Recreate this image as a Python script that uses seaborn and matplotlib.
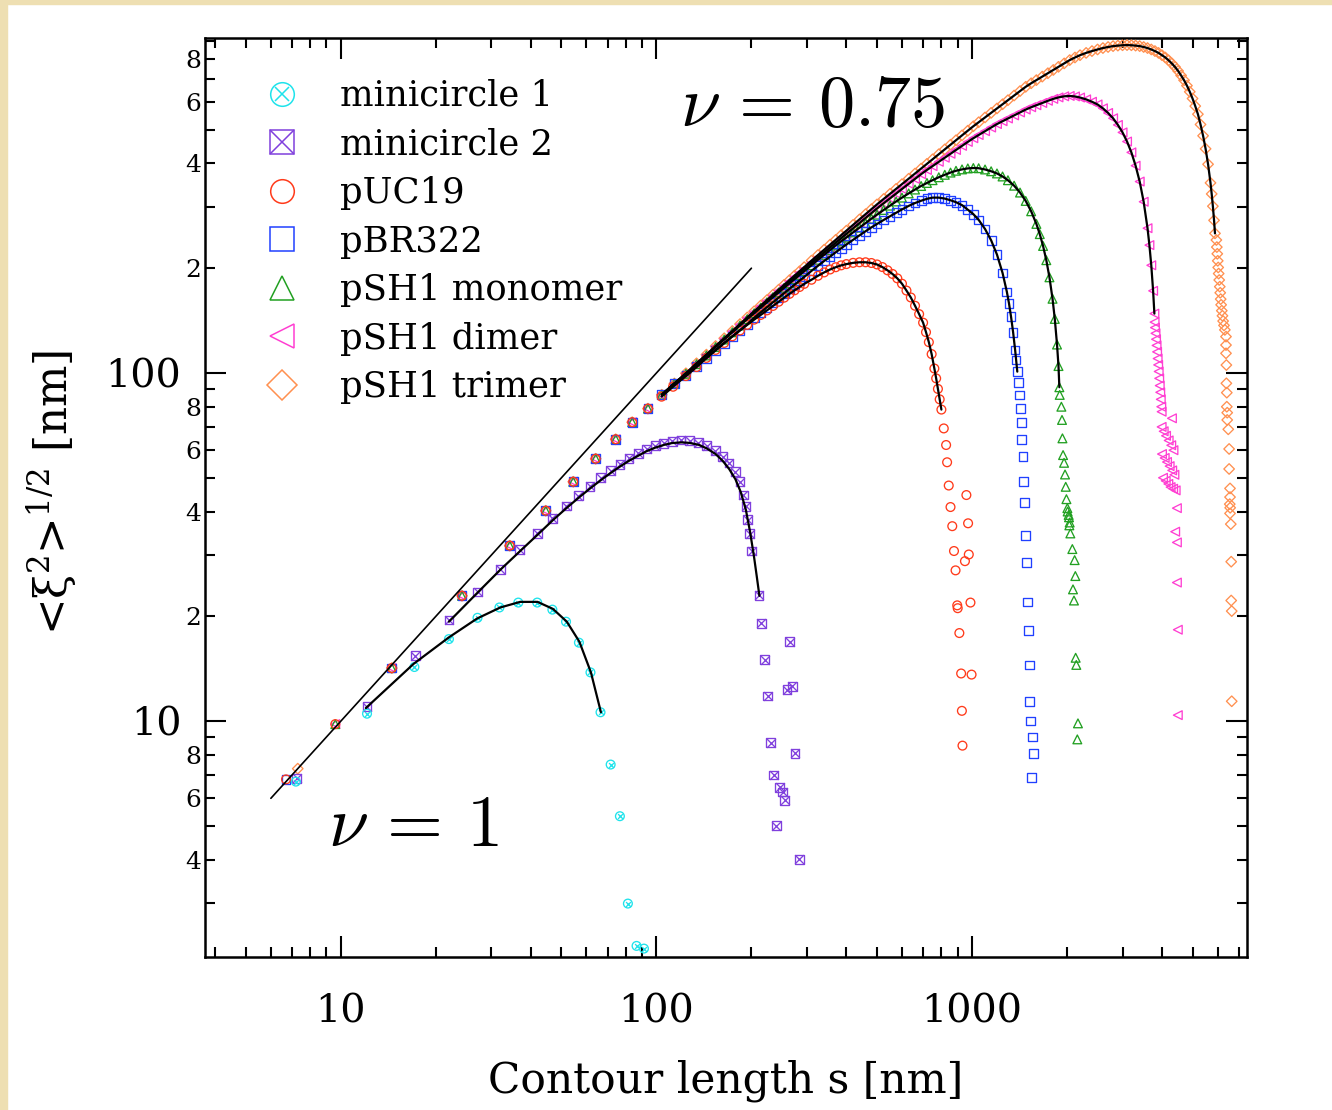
import numpy as np
import pandas as pd
import matplotlib
matplotlib.use("Agg")
import matplotlib.pyplot as plt
import seaborn as sns
from matplotlib.lines import Line2D
from matplotlib.patches import Rectangle
from matplotlib.legend_handler import HandlerTuple
from matplotlib.ticker import LogLocator, FuncFormatter, NullFormatter, FixedLocator

sns.set_theme(style="ticks")
plt.rcParams["font.family"] = ["DejaVu Serif"]
plt.rcParams["mathtext.fontset"] = "cm"
for key in ("text.color", "axes.labelcolor", "xtick.color", "ytick.color",
            "axes.edgecolor"):
    plt.rcParams[key] = "black"

# ---------------- data: contour length s [nm] vs <xi^2>^(1/2) [nm] ----------------
# points shared by the long plasmids at short contour length
trunk_s = [14.5, 24.2, 34.3, 44.6, 54.5, 64.2, 74.3, 83.8, 94.0, 104, 114]
trunk_y = [14.2, 22.9, 31.9, 40.2, 48.7, 56.7, 64.5, 72.2, 79.0, 86.6, 93.3]

# contour-length sampling used for the long plasmids
grid_a = [124, 134, 144, 154, 164, 174, 184, 194, 204, 214, 224, 234, 244, 254, 264,
          274, 284, 294]
grid_b = [310, 325, 340, 355, 370, 385, 400, 420, 440, 460, 480, 500, 525, 550, 575,
          600, 630, 660, 690, 720, 750, 785, 820, 855, 890, 930, 970, 1010, 1050]

mc1_s = [7.2, 12.1, 17.1, 22.0, 27.1, 31.8, 36.5, 41.9, 46.8, 51.7, 56.8, 61.8, 66.5,
         71.6, 76.6, 81.2, 86.5, 91.3]
mc1_y = [6.7, 10.5, 14.3, 17.2, 19.8, 21.2, 21.9, 21.9, 20.9, 19.3, 16.8, 13.8, 10.6,
         7.5, 5.33, 2.99, 2.26, 2.22]

mc2_s = [7.24, 12.1, 17.2, 22.0, 27.1, 32.0, 36.9, 41.9, 46.8, 51.8, 56.6, 61.6, 66.5,
         71.6, 76.6, 81.8, 87.6, 93.2, 99.2, 105.5, 112.3, 119.6, 127.3, 135.6, 144.3,
         153.6, 162.3, 169.9, 177.7, 184.0, 188.6, 192.4, 194.8, 197.3, 200.2, 211.3,
         214.9, 264.1, 220.3, 269.5, 259.2, 225.0, 230.0, 275.0, 235.0, 246.0, 251.0,
         255.0, 240.0, 283.5]
mc2_y = [6.84, 11.0, 15.4, 19.5, 23.5, 27.3, 31.1, 34.6, 38.2, 41.5, 44.4, 47.3, 50.0,
         52.4, 54.7, 56.9, 58.8, 60.5, 61.8, 62.8, 63.7, 64.2, 63.9, 63.1, 61.8,
         59.8, 57.5, 55.1, 52.1, 48.7, 44.6, 41.4, 37.9, 34.5, 30.8, 23.0,
         19.1, 16.9, 15.0, 12.6, 12.3, 11.8, 8.66, 8.07, 7.0, 6.45, 6.26,
         5.92, 5.0, 4.01]

puc_s = [6.7, 9.6] + trunk_s[:-2] + [103.8, 112.9] + grid_a + [
    310, 325, 340, 355, 370, 385, 400, 420, 440, 460, 480, 500, 520, 540, 560, 580, 600,
    620, 640, 660, 680, 700, 715, 730, 745, 760, 770, 780, 790, 800,
    814, 828, 834, 844, 960, 855, 972, 866, 877, 977, 950, 887, 898, 989, 901, 912,
    924, 997, 929, 933]
puc_y = [6.8, 9.8] + trunk_y[:-2] + [85.5, 91.3] + [
    98, 104, 110.5, 116.5, 122, 127.5, 132.5, 137.5, 142.3, 146.8, 151.3, 155.8, 160.2,
    164.6, 168.8, 172.8, 176.6, 180.3] + [
    185.3, 190.2, 194.5, 198.3, 201.3, 203.8, 205.5, 207.2, 208, 208, 207, 205, 201.5,
    197.2, 192.5, 187, 180.5, 172.5, 164.8, 156, 147.6, 139.5, 131, 122.6, 113.3, 103,
    96.5, 90, 84, 78.5,
    69.3, 62.1, 55.4, 47.5, 44.6, 41.2, 37.0, 36.3, 30.8, 30.1, 28.8, 27.1, 21.5, 21.9,
    21.1, 17.9, 13.7, 13.6, 10.7, 8.5]

pbr_s = [6.7] + trunk_s + grid_a + grid_b + [
    1100, 1150, 1200, 1250, 1290, 1310, 1330, 1350, 1370, 1380, 1392,
    1402, 1412, 1426, 1432, 1439, 1450, 1460, 1471, 1478, 1489, 1500, 1514, 1518,
    1525, 1536, 1555, 1566, 1547]
pbr_y = [6.8] + trunk_y + [
    98.4, 104.4, 110.3, 116.1, 121.8, 127.3, 132.7, 138.1, 144.1, 149.3, 154.5, 159.6,
    164.6, 169.6, 174.5, 179.3, 184.1, 188.8] + [
    196.5, 203.2, 209.8, 216, 222.2, 228.2, 234, 241.3, 248.5, 255.4, 262, 268, 275.2,
    282, 288.6, 295, 302, 307.8, 312.5, 316.5, 319, 319, 317, 313.5, 309.5, 303.5,
    294.5, 286, 275.3] + [
    259.2, 240.5, 218.9, 193.8, 171, 158.5, 145, 131, 116.5, 109, 100.9,
    93.8, 86.5, 79.2, 71.9, 64.5, 57.5, 48.7, 42.5, 34.1, 28.5, 22.0, 18.2, 14.5,
    11.4, 10.0, 9.0, 8.07, 6.9]

mono_s = [9.6] + trunk_s + grid_a + grid_b + [
    1100, 1150, 1200, 1250, 1300, 1360, 1420, 1480, 1540, 1600, 1640, 1680, 1720,
    1760, 1800, 1830, 1860, 1880, 1892,
    1897, 1920, 1929, 1935, 1944, 1958, 1972, 1982, 1992, 2006, 2010, 2025, 2030,
    2035, 2040, 2050, 2080, 2115, 2126, 2090, 2105, 2131, 2141, 2167, 2157]
mono_y = [9.8] + trunk_y + [
    99.5, 106, 112.3, 118.7, 124.8, 130.9, 136.9, 142.8, 148.5, 154.1, 159.6, 165.1,
    170.4, 175.7, 180.9, 186, 191.1, 196.1] + [
    204, 211.5, 218.5, 225.5, 232.5, 239, 245, 253.5, 261.5, 269.5, 277.5, 285, 294,
    302.5, 311, 319, 328, 336.5, 344.5, 351.5, 358, 365, 371, 376.5, 381, 384.5, 387,
    388, 387.5] + [
    384.3, 379.8, 374.3, 366.9, 357.9, 345.2, 329.9, 312.1, 291.5, 268.1, 250.6, 231.7,
    210.9, 188.3, 163.4, 143, 120.7, 104.7, 91,
    86.5, 80.0, 73.3, 64.9, 58.1, 55.2, 51.1, 47.1, 43.4, 40.9, 40, 39.1, 38.5,
    36.5, 37.2, 34.6, 31.2, 29.0, 26.1, 23.9, 22.2, 15.2, 14.5, 9.85, 8.86]

dimer_s = [9.6] + trunk_s + grid_a + grid_b + [
    1100, 1150, 1200, 1250, 1300, 1360, 1420, 1480, 1540, 1600, 1670, 1740, 1810,
    1880, 1960, 2040, 2120, 2200, 2300, 2400, 2500, 2600, 2700, 2800, 2900, 3000,
    3100, 3200, 3300, 3400, 3500, 3600, 3650, 3700, 3750, 3785,
    3790, 3800, 3815, 3830, 3845, 3860, 3875, 3890, 3905, 3920, 3935, 3950, 3965,
    3980, 3990, 4302, 3990, 4050, 4120, 4200, 4280, 4350, 4000, 4080, 4150, 4230,
    4310, 4380, 4030, 4110, 4190, 4260, 4340, 4420, 4460, 4405, 4460, 4460, 4490,
    4490]
dimer_y = [9.8] + trunk_y + [
    99.6, 106.3, 112.6, 119.2, 125.4, 131.6, 137.7, 143.8, 149.7, 155.4, 161.1, 166.8,
    172.3, 177.8, 183.2, 188.6, 193.9, 199.1] + [
    207.2, 214.7, 222.1, 229.5, 236.7, 243.9, 251.1, 260.4, 269.7, 278.9, 288, 297,
    307.4, 317.6, 327.7, 337.7, 349.5, 361.1, 372.6, 383.1, 392.9, 404.3, 415.4, 426.4,
    437.2, 449.3, 461.2, 472.5, 482.7] + [
    495.1, 507.2, 519, 528.8, 538.4, 549.6, 560.5, 571.2, 580, 587.8, 596.6, 605.3,
    613, 619, 623.5, 625, 623, 618.5, 611, 601.5, 590.8, 575.9, 558.5, 539.2, 516,
    491.1, 462.3, 430.3, 394, 354.8, 310.4, 260.6, 233, 203.9, 172.2, 148.1,
    140, 135, 130, 125, 120, 115, 110, 105.5, 101, 96.5, 92, 88, 84,
    80, 77.4, 74.1, 70, 68, 66, 64, 62, 60, 58.5, 57, 55.5, 54,
    52.5, 51, 50, 49, 48, 47, 46.5, 46, 40.9, 35, 32.6, 25, 18.3,
    10.4]

trimer_s = [7.3] + trunk_s + grid_a + grid_b + [
    1100, 1150, 1200, 1250, 1300, 1360, 1420, 1480, 1540, 1600, 1670, 1740, 1810,
    1880, 1960, 2040, 2120, 2200, 2300, 2400, 2500, 2600, 2700, 2800, 2900, 3000,
    3100, 3200, 3300, 3400, 3500, 3600, 3700, 3800, 3900, 4000, 4100, 4200, 4300,
    4400, 4500, 4600, 4700, 4800, 4900, 5000, 5100, 5200, 5300, 5400, 5500, 5600,
    5700, 5750, 5800, 5850, 5890,
    5950, 5970, 5990, 6010, 6030, 6050, 6075, 6100, 6120, 6140, 6160, 6190, 6220,
    6250, 6290, 6330, 6383, 6383, 6383, 6400, 6400, 6420, 6420, 6440, 6440, 6490,
    6530, 6530, 6573, 6573, 6560, 6580, 6573, 6610, 6630, 6630, 6655, 6655]
trimer_y = [7.3] + trunk_y + [
    99.8, 106.6, 112.9, 119.5, 125.8, 132.0, 138.2, 144.4, 150.4, 156.2, 162.0, 167.8,
    173.5, 179.2, 184.8, 190.4, 195.9, 201.4] + [
    210.3, 218.2, 226.0, 233.7, 241.3, 248.9, 256.4, 266.4, 276.2, 285.9, 295.5, 305.0,
    316.2, 327.2, 338.1, 348.8, 361.5, 374.1, 386.6, 398.9, 411.0, 425.1, 439.0, 452.7,
    466.3, 481.6, 496.7, 511.5, 525.2] + [
    542.2, 558.9, 575.4, 591.6, 607.7, 626.7, 645.5, 664.0, 679.7, 694.0, 710.3, 726.4,
    742.2, 757.8, 775.2, 792.3, 806, 818.5, 831, 841, 850, 858, 864, 869, 872, 874,
    875, 874, 872, 869, 864, 858, 850, 841, 831, 818.5, 806, 791, 774.6,
    757, 737.5, 715.7, 693.5, 669.1, 642.6, 614.5, 584.4, 554, 517.5, 480.3, 440.6,
    397.8, 351.7, 326.9, 301.4, 274.5, 251.8,
    241, 230, 220, 210, 201, 193, 185, 177, 170, 163, 157, 151, 146,
    141, 137, 133, 127.2, 120.3, 113.9, 105.4, 93.4, 87.8, 80, 76.9, 73.3, 68.9,
    60.5, 53.0, 46.6, 44.0, 42, 41, 39.5, 36.8, 28.7, 22.2, 20.7, 11.4]

# fitted curves of the two minicircles
fit_mc1_s = [12, 17, 22, 27, 32, 37, 42, 47, 52, 57, 62, 66.7]
fit_mc1_y = [10.9, 14.6, 17.4, 19.7, 21.2, 22.0, 22.0, 21.0, 19.3, 16.9, 13.8, 10.6]
fit_mc2_s = [22, 27, 32, 37, 42, 47, 52, 57, 62, 67, 72, 77, 82, 88, 93, 99, 106, 112,
             120, 127, 136, 144, 154, 162, 170, 178, 185, 192, 198, 204, 208, 212]
fit_mc2_y = [19.3, 23.3, 27.2, 30.8, 34.3, 37.8, 41.0, 44.0, 46.8, 49.4, 51.8, 54.0,
             56.0, 58.0, 59.6, 61.0, 62.2, 62.9, 63.2, 63.0, 62.2, 60.8, 58.5, 56.0,
             53.0, 49.5, 45.5, 40.5, 35.0, 29.5, 26.0, 22.9]
# contour-length window covered by the fit of each plasmid
fit_window = {"pUC19": (103, 800), "pBR322": (104, 1392), "pSH1 monomer": (104, 1892),
              "pSH1 dimer": (104, 3785), "pSH1 trimer": (104, 5890)}

# nu = 1 guide line
guide_s = [6, 200]
guide_y = [6, 200]

labels = ["minicircle 1", "minicircle 2", "pUC19", "pBR322",
          "pSH1 monomer", "pSH1 dimer", "pSH1 trimer"]
colors = ["#1EE3EB", "#8040DD", "#FF3A1A", "#2040FF", "#22A022", "#FF3FD2", "#FF9050"]
markers = ["o", "s", "o", "s", "^", "<", "D"]
series = [(mc1_s, mc1_y), (mc2_s, mc2_y), (puc_s, puc_y), (pbr_s, pbr_y),
          (mono_s, mono_y), (dimer_s, dimer_y), (trimer_s, trimer_y)]

# ---------------- figure ----------------
fig = plt.figure(figsize=(13.32, 11.10), dpi=100, facecolor="white")
fig.patches.append(Rectangle((0, 0), 7 / 1332, 1, transform=fig.transFigure,
                             color="#EEDFB2", zorder=-10))
fig.patches.append(Rectangle((0, 1 - 4 / 1110), 1, 4 / 1110, transform=fig.transFigure,
                             color="#EEDFB2", zorder=-10))
ax = fig.add_axes([205 / 1332, 1 - 957 / 1110, 1042 / 1332, 919 / 1110])
ax.set_facecolor("white")

ms_pts = 6.3
mew = 0.95
for i in [6, 5, 4, 3, 2, 1, 0]:
    sx, sy = series[i]
    df = pd.DataFrame({"s": sx, "xi": sy})
    size = ms_pts ** 2 if markers[i] != "D" else (ms_pts * 0.85) ** 2
    sns.scatterplot(data=df, x="s", y="xi", marker=markers[i], s=size,
                    facecolor="none", edgecolor=colors[i], linewidth=mew,
                    ax=ax, zorder=3, legend=False)
    if i in (0, 1):
        xs = ms_pts * (0.55 if i == 0 else 1.0)
        sns.scatterplot(data=df, x="s", y="xi", marker="x", s=xs ** 2,
                        color=colors[i], linewidth=mew, ax=ax, zorder=3,
                        legend=False)

fit_curves = [(fit_mc1_s, fit_mc1_y), (fit_mc2_s, fit_mc2_y)]
for i in range(2, 7):
    lo, hi = fit_window[labels[i]]
    sx, sy = series[i]
    pairs = [(a, b) for a, b in zip(sx, sy) if lo <= a <= hi]
    fit_curves.append(([p[0] for p in pairs], [p[1] for p in pairs]))
for fx, fy in fit_curves:
    sns.lineplot(x=fx, y=fy, sort=False, estimator=None, color="black", lw=1.6,
                 ax=ax, zorder=5)
sns.lineplot(x=guide_s, y=guide_y, sort=False, estimator=None, color="black", lw=1.2,
             ax=ax, zorder=5)

ax.set_xscale("log")
ax.set_yscale("log")
ax.set_xlim(3.71, 7440)
ax.set_ylim(2.10, 917)

# ticks
ax.xaxis.set_major_locator(FixedLocator([10, 100, 1000]))
ax.xaxis.set_minor_locator(LogLocator(base=10, subs=np.arange(2, 10)))
ax.xaxis.set_minor_formatter(NullFormatter())
ax.xaxis.set_major_formatter(FuncFormatter(lambda v, p: f"{v:g}"))
ax.yaxis.set_major_locator(FixedLocator([10, 100]))
ax.yaxis.set_minor_locator(LogLocator(base=10, subs=np.arange(2, 10)))
ax.yaxis.set_major_formatter(FuncFormatter(lambda v, p: f"{v:g}"))


def minor_label(v, pos):
    lead = int(round(v / 10 ** np.floor(np.log10(v) + 1e-9)))
    return str(lead) if lead in (2, 4, 6, 8) else ""


ax.yaxis.set_minor_formatter(FuncFormatter(minor_label))
ax.tick_params(which="both", direction="in", top=True, right=True, width=1.5,
               colors="black")
ax.tick_params(which="major", length=15)
ax.tick_params(which="minor", length=7.5)
ax.tick_params(axis="x", which="major", labelsize=28.5, pad=26)
ax.tick_params(axis="y", which="major", labelsize=28.5, pad=17)
ax.tick_params(axis="y", which="minor", labelsize=18, pad=2.5)
for sp in ax.spines.values():
    sp.set_linewidth(1.8)
    sp.set_color("black")

ax.set_xlabel("Contour length s [nm]", fontsize=30.5)
ax.xaxis.set_label_coords(0.5, -0.112)
ax.set_ylabel(r"<ξ$^{2}$>$^{1/2}$ [nm]", fontsize=31.5, math_fontfamily="dejavuserif")
ax.yaxis.set_label_coords(-0.121, 0.506)

fig.text(680 / 1332, 1 - 126 / 1110, r"$\nu\,=\,0.75$", fontsize=52,
         ha="left", va="baseline")
fig.text(328 / 1332, 1 - 846 / 1110, r"$\nu\,=\,1$", fontsize=52,
         ha="left", va="baseline")

# legend
handles = []
for i in range(7):
    base = Line2D([], [], ls="none", marker=markers[i], mfc="none", mec=colors[i],
                  ms=17 if markers[i] != "D" else 15, mew=1.1)
    if i == 0:
        handles.append((base, Line2D([], [], ls="none", marker="x", color=colors[i],
                                     ms=9.5, mew=1.1)))
    elif i == 1:
        handles.append((base, Line2D([], [], ls="none", marker="x", color=colors[i],
                                     ms=17, mew=1.1)))
    else:
        handles.append(base)
leg = ax.legend(handles, labels, loc="upper left",
                bbox_to_anchor=(264 / 1332, 1 - 79 / 1110),
                bbox_transform=fig.transFigure, frameon=False, fontsize=25.5,
                handlelength=1.0, handletextpad=1.15, labelspacing=0.41,
                borderpad=0, borderaxespad=0,
                handler_map={tuple: HandlerTuple(ndivide=1, pad=0)})
for t in leg.get_texts():
    t.set_color("black")

fig.savefig("out.png", dpi=100, facecolor=fig.get_facecolor())
